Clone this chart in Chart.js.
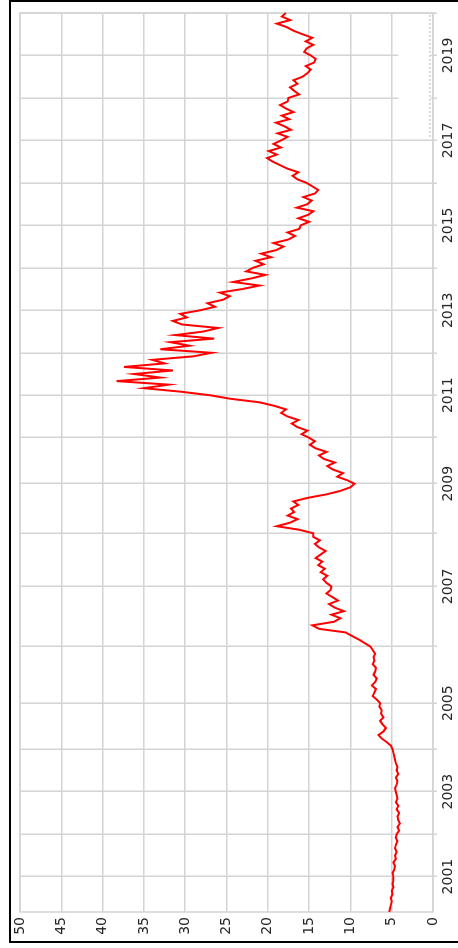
<!DOCTYPE html>
<html>
<head>
<meta charset="utf-8">
<script src="https://cdn.jsdelivr.net/npm/chart.js@4/dist/chart.umd.min.js"></script>
<style>
  html, body { margin: 0; padding: 0; background: #fff; }
  body { width: 458px; height: 948px; position: relative; overflow: hidden; }
  #turn {
    position: absolute; left: 0; top: 0; width: 948px; height: 458px;
    transform-origin: 0 0; transform: translate(0, 948px) rotate(-90deg);
  }
  #frame {
    position: absolute; left: 9px; top: 0; width: 449px; height: 943px;
    box-sizing: border-box;
    border-top: 2px solid #000; border-left: 2px solid #000; border-bottom: 2px solid #000;
    pointer-events: none;
  }
</style>
</head>
<body>
<div id="turn"><canvas id="c" width="948" height="458"></canvas></div>
<div id="frame"></div>
<script>
// Readings per calendar year (series starts in spring 2000, ends at the start of 2020)
const v2000 = [5.3, 5.2, 5.1, 5.0, 5.1, 4.9, 5.0, 4.8, 4.9, 4.8];
const v2001 = [4.8, 4.9, 4.7, 4.6, 4.8, 4.5, 4.6, 4.4, 4.6, 4.5, 4.3, 4.5];
const v2002 = [4.4, 4.1, 4.3, 4.0, 4.2, 4.3, 4.1, 4.4, 4.2, 4.5, 4.3, 4.4];
const v2003 = [4.5, 4.6, 4.4, 4.3, 4.5, 4.2, 4.4, 4.3, 4.5, 4.6, 4.7, 4.8];
const v2004 = [4.9, 5.1, 5.6, 6.2, 6.6, 6.0, 5.7, 6.1, 6.4, 6.0, 6.3, 6.2, 6.5];
const v2005 = [6.4, 6.8, 7.3, 7.1, 6.9, 7.4, 7.0, 6.8, 7.2, 7.0, 6.9, 7.3, 7.1, 7.2, 7.0, 7.3];
const v2006 = [7.6, 8.3, 9.0, 9.8, 10.6, 13.8, 14.6, 12.0, 11.2, 12.3, 10.8, 11.9, 12.6, 11.5, 12.2, 12.9, 12.4];
const v2007 = [12.3, 12.9, 13.3, 12.8, 13.6, 13.1, 13.9, 13.4, 14.2, 13.6, 13.0, 13.8, 14.3, 13.7, 14.5];
const v2008 = [14.5, 16.2, 18.9, 17.3, 16.4, 17.6, 16.8, 17.2, 16.3, 16.9, 15.2, 12.9, 11.2, 10.0];
const v2009 = [9.5, 10.4, 11.6, 10.9, 12.1, 12.8, 11.9, 13.2, 13.8, 12.9, 14.2, 14.9, 14.3];
const v2010 = [15.0, 15.9, 15.2, 16.4, 17.1, 16.3, 17.6, 18.4, 17.8, 19.2, 21.0, 24.5];
const v2011 = [27.0, 30.5, 35.0, 32.0, 38.3, 33.0, 36.2, 31.5, 37.4, 32.5, 34.0, 29.0];
const v2012 = [26.8, 33.0, 29.5, 31.8, 26.5, 31.2, 27.8, 26.0, 30.4, 31.5, 29.8, 30.6];
const v2013 = [28.2, 26.4, 27.3, 25.4, 24.6, 25.8, 23.1, 21.0, 24.2, 22.0, 20.3, 22.6];
const v2014 = [21.8, 20.5, 21.5, 19.6, 20.8, 19.0, 18.1, 19.3, 17.5, 16.7, 17.6, 16.2];
const v2015 = [16.0, 15.0, 16.3, 15.1, 14.5, 16.5, 15.2, 14.7, 15.7, 14.3, 13.9, 14.6];
const v2016 = [15.3, 16.4, 17.0, 16.3, 17.6, 18.5, 19.4, 20.1, 18.9, 19.9, 18.4, 19.3];
const v2017 = [18.4, 17.6, 18.8, 17.2, 18.0, 19.0, 17.4, 18.3, 16.9, 17.8, 18.5, 17.6];
const v2018 = [17.5, 16.2, 16.8, 17.3, 16.4, 16.9, 15.8, 15.2, 14.8, 15.4, 14.4, 14.2];
const v2019 = [14.8, 15.6, 15.3, 14.5, 15.4, 14.6, 15.8, 16.9, 17.7, 18.9, 17.3, 18.3];
const v2020 = [17.8];

const yearRows = [
  [2000, v2000], [2001, v2001], [2002, v2002], [2003, v2003], [2004, v2004],
  [2005, v2005], [2006, v2006], [2007, v2007], [2008, v2008], [2009, v2009],
  [2010, v2010], [2011, v2011], [2012, v2012], [2013, v2013], [2014, v2014],
  [2015, v2015], [2016, v2016], [2017, v2017], [2018, v2018], [2019, v2019],
  [2020, v2020]
];

// Years that carry a printed label on the time axis
const yearTicks = [2001, 2003, 2005, 2007, 2009, 2011, 2013, 2015, 2017, 2019];
// Value axis
const valueMin = 0, valueMax = 50, valueStep = 5;

// Flatten into category labels + values, remembering where each year begins
const labels = [], values = [], yearStart = {};
for (const [yr, vals] of yearRows) {
  vals.forEach((v, i) => {
    if (i === 0 && yr > 2000) yearStart[labels.length] = yr;
    labels.push(yr + '-' + (i + 1));
    values.push(v);
  });
}

const GRID = '#d4d4d4';
const FONT = { family: 'DejaVu Sans', size: 14 };

// Plot outline plus the blank legend box in the upper corner
const plotEdge = {
  id: 'plotEdge',
  beforeDatasetsDraw(chart) {
    const { ctx, chartArea: a, scales: { x, y } } = chart;
    ctx.save();
    const bx0 = x.getPixelForValue(219);
    const bx1 = a.right - 1;
    const byTop = y.getPixelForValue(4.2);
    const byBot = y.getPixelForValue(0.25);
    ctx.fillStyle = '#fff';
    ctx.fillRect(bx0, byTop, bx1 - bx0, byBot - byTop);
    ctx.setLineDash([2, 2]);
    ctx.strokeStyle = '#b0b0b0';
    ctx.lineWidth = 1;
    ctx.beginPath();
    ctx.moveTo(bx0, byBot - 1);
    ctx.lineTo(bx1, byBot - 1);
    ctx.stroke();
    ctx.setLineDash([]);
    ctx.strokeStyle = GRID;
    ctx.lineWidth = 1.5;
    ctx.strokeRect(a.left, a.top, a.width, a.height);
    ctx.restore();
  }
};

new Chart(document.getElementById('c'), {
  type: 'line',
  data: {
    labels,
    datasets: [{
      data: values,
      borderColor: '#ff0000',
      borderWidth: 2,
      pointRadius: 0,
      tension: 0,
      fill: false
    }]
  },
  options: {
    responsive: false,
    animation: false,
    devicePixelRatio: 1,
    layout: { padding: { top: 20, right: 13, left: 0, bottom: 0 } },
    plugins: { legend: { display: false }, tooltip: { enabled: false } },
    scales: {
      x: {
        type: 'category',
        offset: false,
        afterBuildTicks: s => { s.ticks = s.ticks.filter(t => yearStart[t.value] !== undefined); },
        afterFit: s => { s.height = 25; },
        ticks: {
          autoSkip: false, maxRotation: 0, minRotation: 0, padding: 3,
          color: '#262626', font: FONT,
          callback: val => {
            const yr = yearStart[val];
            return yearTicks.includes(yr) ? String(yr) : '';
          }
        },
        grid: { color: GRID, lineWidth: 1.5, drawTicks: true, tickLength: 4 },
        border: { display: false }
      },
      y: {
        min: valueMin, max: valueMax,
        afterFit: s => { s.width = 36; },
        ticks: { stepSize: valueStep, padding: 5, color: '#262626', font: FONT },
        grid: { color: GRID, lineWidth: 1.5, drawTicks: false },
        border: { display: false }
      }
    }
  },
  plugins: [plotEdge]
});
</script>
</body>
</html>
